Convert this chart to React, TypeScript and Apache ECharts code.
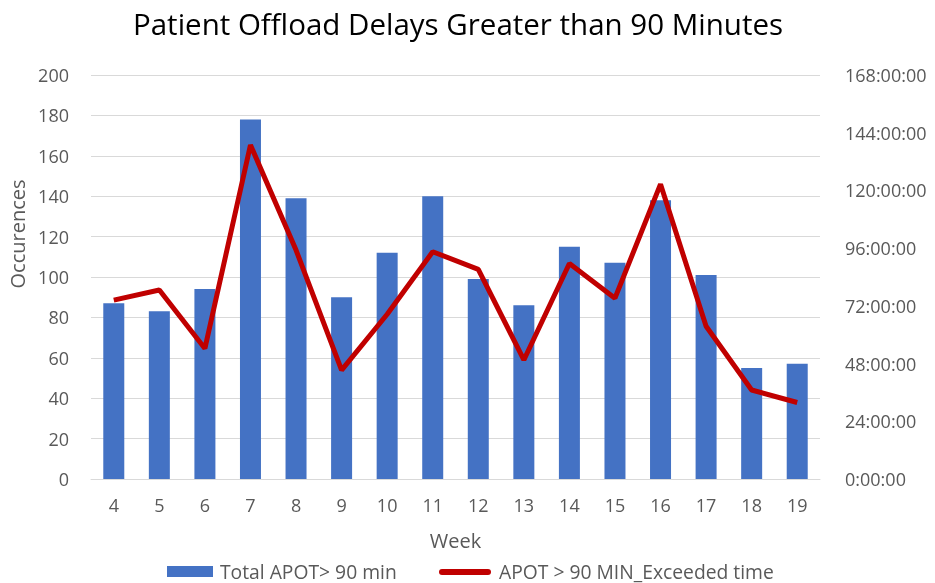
import React, { useEffect, useRef } from "react";
import * as echarts from "echarts";

const weeks = ["4", "5", "6", "7", "8", "9", "10", "11", "12", "13", "14", "15", "16", "17", "18", "19"];
const totalApot = [87, 83, 94, 178, 139, 90, 112, 140, 99, 86, 115, 107, 138, 101, 55, 57];
const exceededHours = [74.4, 78.6, 54.3, 138.9, 95.2, 45.3, 68.5, 94.5, 87.2, 49.5, 89.6, 75.2, 122.6, 63.5, 37, 31.8];
const barName = "Total APOT> 90 min";
const lineName = "APOT > 90 MIN_Exceeded time";

const FONT = "'Open Sans', Lato, sans-serif";
const GREY = "#595959";

export default function App() {
  const ref = useRef<HTMLDivElement>(null);
  useEffect(() => {
    if (!ref.current) return;
    const chart = echarts.init(ref.current, undefined, { renderer: "svg" });
    chart.setOption({
      animation: false,
      textStyle: { fontFamily: FONT },
      title: {
        text: "Patient Offload Delays Greater than 90 Minutes",
        left: 453,
        textAlign: "center",
        top: 3,
        textStyle: { fontFamily: FONT, fontSize: 29.5, fontWeight: "normal", color: "#000" },
      },
      graphic: [
        {
          type: "text",
          x: 17,
          y: 234,
          rotation: Math.PI / 2,
          style: {
            text: "Occurences",
            fontFamily: FONT,
            fontSize: 20,
            fill: GREY,
            align: "center",
            verticalAlign: "middle",
          },
        },
        { type: "rect", shape: { x: 167, y: 566, width: 46, height: 11 }, style: { fill: "#4472C4" } },
        {
          type: "text",
          x: 220,
          y: 571,
          style: {
            text: barName,
            fontFamily: FONT,
            fontSize: 19.3,
            lineHeight: 20,
            fill: GREY,
            verticalAlign: "middle",
          },
        },
        {
          type: "line",
          shape: { x1: 442, y1: 572, x2: 488, y2: 572 },
          style: { stroke: "#C00000", lineWidth: 6, lineCap: "round" },
        },
        {
          type: "text",
          x: 499,
          y: 571,
          style: {
            text: lineName,
            fontFamily: FONT,
            fontSize: 19.3,
            lineHeight: 20,
            fill: GREY,
            verticalAlign: "middle",
          },
        },
      ],
      grid: { left: 91, right: 115, top: 75, bottom: 104 },
      xAxis: {
        type: "category",
        data: weeks,
        name: "Week",
        nameLocation: "middle",
        nameGap: 51,
        nameTextStyle: { fontFamily: FONT, fontSize: 20, color: GREY },
        axisLine: { lineStyle: { color: "#d9d9d9", width: 1 } },
        axisTick: { show: false },
        axisLabel: { fontFamily: FONT, fontSize: 18, color: GREY, margin: 17 },
      },
      yAxis: [
        {
          type: "value",
          min: 0,
          max: 200,
          interval: 20,
          axisLabel: { fontFamily: FONT, fontSize: 18, color: GREY, margin: 22 },
          splitLine: { lineStyle: { color: "#d9d9d9", width: 1 } },
          axisLine: { show: false },
          axisTick: { show: false },
        },
        {
          type: "value",
          min: 0,
          max: 168,
          interval: 24,
          position: "right",
          axisLabel: {
            fontFamily: FONT,
            fontSize: 18,
            color: GREY,
            margin: 25,
            formatter: (v: number) => `${v}:00:00`,
          },
          splitLine: { show: false },
          axisLine: { show: false },
          axisTick: { show: false },
        },
      ],
      series: [
        {
          name: barName,
          type: "bar",
          data: totalApot,
          barWidth: 21,
          itemStyle: { color: "#4472C4" },
        },
        {
          name: lineName,
          type: "line",
          yAxisIndex: 1,
          data: exceededHours,
          symbol: "none",
          lineStyle: { color: "#C00000", width: 5 },
          itemStyle: { color: "#C00000" },
        },
      ],
    });
    return () => chart.dispose();
  }, []);
  return <div ref={ref} style={{ width: 935, height: 583, position: "fixed", left: 0, top: 0 }} />;
}
